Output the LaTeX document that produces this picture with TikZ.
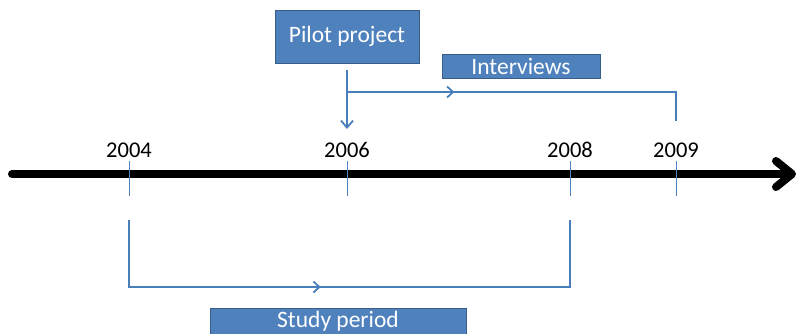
\documentclass[tikz,border=0pt]{standalone}
\usepackage{fontspec}
\setmainfont{Carlito}
\usetikzlibrary{arrows.meta,decorations.markings}
\definecolor{boxblue}{HTML}{4F81BD}
\definecolor{boxedge}{HTML}{385D8A}
\definecolor{lineblue}{HTML}{4A7EBB}
\begin{document}
\begin{tikzpicture}[x=1pt, y=-1pt,
	box/.style   = {draw=boxedge, fill=boxblue, text=white, line width=1pt, inner sep=0pt,
	                font=\fontsize{23.5}{27}\selectfont},
	year/.style  = {inner sep=0pt, anchor=base, font=\fontsize{22.5}{26}\selectfont},
	tickline/.style = {draw=boxblue, line width=0.8pt},
	link/.style  = {draw=lineblue, line width=1.8pt},
	axis/.style  = {draw=black, line width=8pt, line cap=round, line join=round},
	midarrow/.style = {postaction={decorate, decoration={markings,
	                  mark=at position #1 with {\arrow{Straight Barb[length=6pt,width=11pt,line width=1.8pt]}}}}},
	>={Straight Barb[length=7pt,width=12pt]}]
	\useasboundingbox (0,0) rectangle (799,333);
	
	% the time axis
	\coordinate (tl) at (12,174);
	\coordinate (tr) at (796,174);
	\draw[axis, -{Straight Barb[length=16pt,width=26pt,round]}] (tl) -- (tr);
	
	% years with their ticks
	\foreach \yr/\x in {2004/129, 2006/347, 2008/570, 2009/676} {
		\node[year] (y\yr) at (\x,157) {\yr};
		\draw[tickline] ([yshift=-4pt]y\yr.south) -- ++(0,35);
	}
	
	% boxes
	\node[box, minimum width=144pt, minimum height=53pt] (pilot) at (347,36.5) {Pilot project};
	\node[box, minimum width=158pt, minimum height=24pt] (intv) at (521,66) {Interviews};
	\node[box, minimum width=256pt, minimum height=27pt] (study) at (338,321.5) {Study period};
	
	% connectors above the axis
	\coordinate (pilotout) at (347,70);
	\coordinate (pilotin) at (347,129);
	\coordinate (intvstart) at (347,92);
	\coordinate (intvend) at (676,121);
	\draw[link, ->] (pilotout) -- (pilotin);
	\draw[link, midarrow=0.3] (intvstart) -| (intvend);
	
	% bracket below the axis
	\coordinate (studystart) at (129,220);
	\coordinate (studyend) at (570,220);
	\draw[link, midarrow=0.45] (studystart) |- (350,287) -| (studyend);
\end{tikzpicture}
\end{document}
